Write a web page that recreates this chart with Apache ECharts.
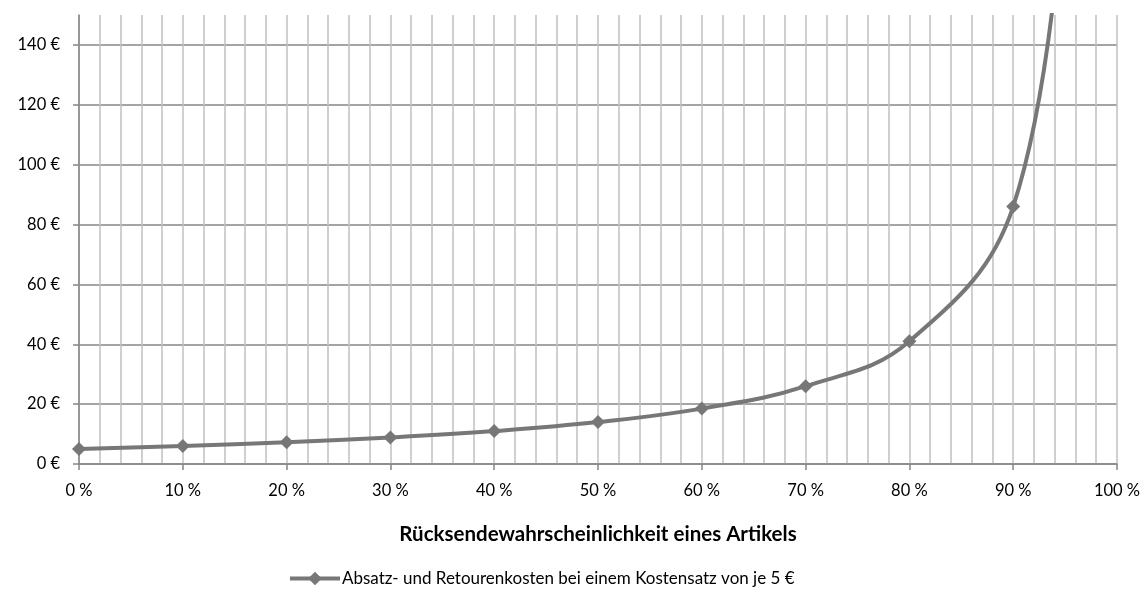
<!DOCTYPE html>
<html>
<head>
<meta charset="utf-8">
<script src="https://cdn.jsdelivr.net/npm/echarts@6/dist/echarts.min.js"></script>
<style>
  html, body { margin: 0; padding: 0; background: #ffffff; }
  #chart { width: 1146px; height: 595px; }
</style>
</head>
<body>
<div id="chart"></div>
<script>
// Return probability of an article (in %) and the resulting cost per sale (€)
const returnProbability = [0, 10, 20, 30, 40, 50, 60, 70, 80, 90, 95];
const costPerSale = [5, 6.0, 7.25, 8.86, 11.0, 14.0, 18.5, 26.0, 41.0, 86.0, 200.0];
const yTickValues = [0, 20, 40, 60, 80, 100, 120, 140];
const seriesName = 'Absatz- und Retourenkosten bei einem Kostensatz von je 5 €';
const xAxisTitle = 'Rücksendewahrscheinlichkeit eines Artikels';

const FONT = 'Lato, "Open Sans", sans-serif';
const LINE_COLOR = '#777777';
const AXIS_COLOR = '#868686';
const GRID_COLOR = '#c0c0c0';

const points = returnProbability.map((p, i) => [p, costPerSale[i]]);

const chart = echarts.init(document.getElementById('chart'), null, { renderer: 'canvas' });
chart.setOption({
  animation: false,
  backgroundColor: '#ffffff',
  grid: { left: 79, right: 29, top: 15, bottom: 131, containLabel: false },
  xAxis: {
    type: 'value',
    min: 0,
    max: 100,
    interval: 10,
    name: xAxisTitle,
    nameLocation: 'middle',
    nameGap: 60,
    nameTextStyle: { fontFamily: FONT, fontSize: 20.5, fontWeight: 'bold', color: '#000' },
    axisLine: { show: true, lineStyle: { color: AXIS_COLOR, width: 1.5 } },
    axisTick: { show: true, length: 6, lineStyle: { color: AXIS_COLOR, width: 1.5 } },
    axisLabel: {
      fontFamily: FONT, fontSize: 16.5, color: '#000', margin: 18,
      formatter: v => v + ' %'
    },
    splitLine: { show: true, lineStyle: { color: GRID_COLOR, width: 1.5 } },
    minorTick: { show: false, splitNumber: 5 },
    minorSplitLine: { show: true, lineStyle: { color: GRID_COLOR, width: 1.5 } }
  },
  yAxis: {
    type: 'value',
    min: 0,
    max: 150,
    interval: 20,
    axisLine: { show: true, lineStyle: { color: AXIS_COLOR, width: 1.5 } },
    axisTick: { show: true, length: 6, customValues: yTickValues, lineStyle: { color: AXIS_COLOR, width: 1.5 } },
    axisLabel: {
      fontFamily: FONT, fontSize: 16.5, color: '#000', margin: 19,
      customValues: yTickValues,
      formatter: v => v + ' €'
    },
    splitLine: {
      show: true,
      lineStyle: {
        color: [AXIS_COLOR, AXIS_COLOR, AXIS_COLOR, AXIS_COLOR, AXIS_COLOR, AXIS_COLOR, AXIS_COLOR, AXIS_COLOR, 'rgba(0,0,0,0)'],
        width: 1.5
      }
    }
  },
  legend: {
    bottom: 3,
    left: 283,
    itemWidth: 50,
    itemHeight: 17,
    itemGap: 10,
    textStyle: { fontFamily: FONT, fontSize: 17, color: '#000', padding: [0, 0, 0, -3] },
    itemStyle: { color: LINE_COLOR },
    lineStyle: { color: LINE_COLOR, width: 4 },
    data: [seriesName]
  },
  series: [{
    name: seriesName,
    type: 'line',
    data: points,
    smooth: 0.4,
    clip: true,
    symbol: 'diamond',
    symbolSize: 14,
    lineStyle: { color: LINE_COLOR, width: 4 },
    itemStyle: { color: LINE_COLOR },
    z: 5
  }]
});
</script>
</body>
</html>
